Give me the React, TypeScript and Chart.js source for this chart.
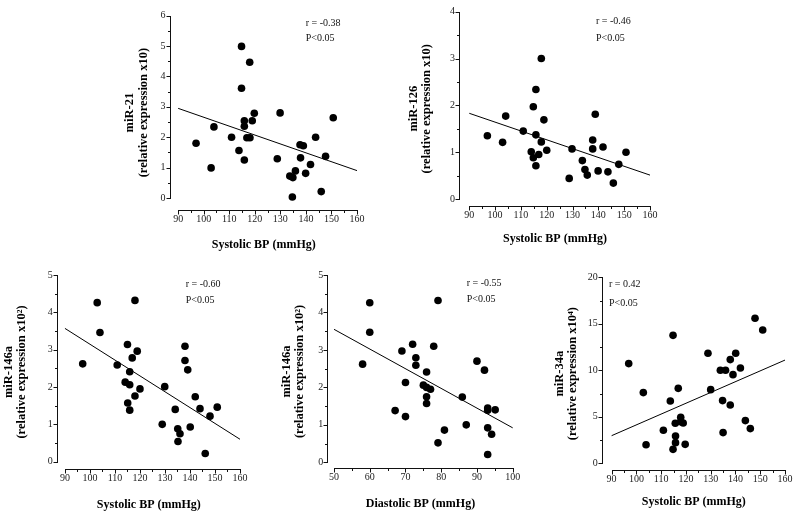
import React, { useEffect, useRef } from "react";
import { Chart, registerables } from "chart.js";

Chart.register(...registerables);

// ---- Panel A: miR-21 vs systolic BP ----
const sbpA = [97.0, 102.9, 104.0, 110.9, 113.8, 114.8, 114.8, 115.9, 115.9, 115.9, 118.0, 116.9, 118.1, 119.0, 119.8, 128.8, 129.9, 133.7, 134.9, 134.7, 135.9, 137.7, 139.0, 137.9, 139.9, 141.8, 143.8, 146.0, 147.7, 150.7];
const mir21 = [1.80, 0.99, 2.34, 2.00, 1.56, 4.99, 3.61, 2.54, 2.36, 1.25, 4.47, 1.98, 1.98, 2.54, 2.79, 1.29, 2.80, 0.72, 0.67, 0.03, 0.89, 1.75, 1.72, 1.32, 0.81, 1.10, 2.00, 0.21, 1.37, 2.64];
const fitAX = [90, 160];
const fitAY = [2.95, 0.90];

// ---- Panel B: miR-126 vs systolic BP ----
const sbpB = [97.0, 102.9, 104.1, 110.9, 114.0, 114.8, 114.8, 115.8, 115.8, 115.8, 116.9, 117.9, 117.9, 118.9, 120.0, 128.7, 129.8, 133.8, 134.8, 135.7, 137.8, 137.8, 138.8, 139.9, 141.8, 143.7, 145.8, 147.9, 150.7];
const mir126 = [1.35, 1.21, 1.77, 1.45, 1.01, 1.97, 0.88, 2.34, 1.37, 0.71, 0.95, 3.00, 1.22, 1.69, 1.04, 0.44, 1.07, 0.82, 0.63, 0.51, 1.26, 1.07, 1.81, 0.60, 1.11, 0.58, 0.34, 0.74, 1.00];
const fitBX = [90, 160];
const fitBY = [1.83, 0.51];

// ---- Panel C: miR-146a vs systolic BP ----
const sbpC = [97.1, 102.9, 104.0, 110.9, 114.1, 115.0, 115.1, 115.9, 115.9, 115.9, 116.9, 118.0, 118.0, 118.9, 120.0, 128.9, 129.9, 134.1, 135.1, 135.2, 136.0, 138.0, 138.0, 139.1, 140.1, 142.1, 144.0, 146.1, 148.0, 150.9];
const mir146s = [2.62, 4.26, 3.46, 2.59, 2.13, 3.14, 1.57, 2.41, 2.06, 1.38, 2.78, 4.32, 1.76, 2.96, 1.95, 1.00, 2.01, 1.40, 0.88, 0.54, 0.75, 3.09, 2.71, 2.46, 0.93, 1.74, 1.42, 0.22, 1.22, 1.46];
const fitCX = [90, 160];
const fitCY = [3.57, 0.60];

// ---- Panel D: miR-146a vs diastolic BP ----
const dbpD = [58.0, 60.0, 60.0, 67.1, 69.0, 70.0, 70.0, 72.0, 72.9, 72.9, 75.0, 75.9, 75.9, 75.9, 75.9, 77.0, 77.9, 79.1, 79.1, 80.9, 85.9, 87.0, 90.0, 92.1, 93.0, 93.0, 93.0, 93.0, 94.1, 95.1];
const mir146d = [2.62, 4.26, 3.47, 1.38, 2.97, 2.13, 1.22, 3.15, 2.79, 2.59, 2.06, 2.41, 2.00, 1.75, 1.57, 1.95, 3.10, 4.32, 0.52, 0.86, 1.74, 1.00, 2.70, 2.46, 1.45, 1.39, 0.92, 0.21, 0.75, 1.40];
const fitDX = [50, 100];
const fitDY = [3.55, 0.92];

// ---- Panel E: miR-34a vs systolic BP ----
const sbpE = [96.9, 102.8, 103.9, 110.9, 113.7, 114.8, 114.8, 115.8, 115.7, 115.8, 116.9, 117.9, 117.9, 118.9, 119.7, 128.9, 130.0, 133.9, 134.8, 135.0, 136.0, 137.9, 137.9, 139.0, 140.1, 142.0, 144.0, 146.0, 147.9, 151.0];
const mir34a = [10.72, 7.60, 2.00, 3.55, 6.70, 13.76, 1.50, 2.94, 4.30, 2.22, 8.06, 4.95, 4.48, 4.34, 2.04, 11.83, 7.92, 10.00, 6.74, 3.30, 10.00, 11.15, 6.27, 9.53, 11.83, 10.25, 4.59, 3.73, 15.59, 14.34];
const fitEX = [90, 160];
const fitEY = [2.97, 11.1];

// ---- Tick labels / texts ----
const sbpTicks = [90, 100, 110, 120, 130, 140, 150, 160];
const dbpTicks = [50, 60, 70, 80, 90, 100];
const ticks0to6 = [0, 1, 2, 3, 4, 5, 6];
const ticks0to4 = [0, 1, 2, 3, 4];
const ticks0to5 = [0, 1, 2, 3, 4, 5];
const ticks0to20 = [0, 5, 10, 15, 20];
const statsA = ["r = -0.38", "P<0.05"];
const statsB = ["r = -0.46", "P<0.05"];
const statsC = ["r = -0.60", "P<0.05"];
const statsD = ["r = -0.55", "P<0.05"];
const statsE = ["r = 0.42", "P<0.05"];

const SERIF = '"Liberation Serif", "Times New Roman", serif';

type Box = { left: number; top: number; width: number; height: number };
type Area = { left: number; top: number; right: number; bottom: number };
type PanelCfg = {
  box: Box;
  area: Area;
  xs: number[];
  ys: number[];
  fitX: number[];
  fitY: number[];
  xMin: number;
  xMax: number;
  xTicks: number[];
  xMinor: number;
  yMin: number;
  yMax: number;
  yTicks: number[];
  yMinor: number;
  xTitle: string;
  yTitle: string[];
  yTitleX: number;
  xTitleY: number;
  notes: string[];
  noteX: number;
  noteY: number[];
};

const panels: PanelCfg[] = [
  {
    box: { left: 90, top: 0, width: 310, height: 259 },
    area: { left: 170.5, top: 15.7, right: 357, bottom: 209.5 },
    xs: sbpA, ys: mir21, fitX: fitAX, fitY: fitAY,
    xMin: 87.0, xMax: 160, xTicks: sbpTicks, xMinor: 5,
    yMin: -0.38, yMax: 6, yTicks: ticks0to6, yMinor: 0.5,
    xTitle: "Systolic BP (mmHg)",
    yTitle: ["miR-21", "(relative expression x10)"],
    yTitleX: 130, xTitleY: 245,
    notes: statsA, noteX: 305.7, noteY: [23.3, 38.3],
  },
  {
    box: { left: 400, top: 0, width: 400, height: 259 },
    area: { left: 460, top: 11.7, right: 650, bottom: 205.7 },
    xs: sbpB, ys: mir126, fitX: fitBX, fitY: fitBY,
    xMin: 86.4, xMax: 160, xTicks: sbpTicks, xMinor: 5,
    yMin: -0.143, yMax: 4, yTicks: ticks0to4, yMinor: 0.5,
    xTitle: "Systolic BP (mmHg)",
    yTitle: ["miR-126", "(relative expression x10)"],
    yTitleX: 413.3, xTitleY: 239.3,
    notes: statsB, noteX: 596, noteY: [21.7, 38.3],
  },
  {
    box: { left: 0, top: 259, width: 270, height: 259 },
    area: { left: 57.7, top: 275, right: 240, bottom: 469 },
    xs: sbpC, ys: mir146s, fitX: fitCX, fitY: fitCY,
    xMin: 87.1, xMax: 160, xTicks: sbpTicks, xMinor: 5,
    yMin: -0.196, yMax: 5, yTicks: ticks0to5, yMinor: 0.5,
    xTitle: "Systolic BP (mmHg)",
    yTitle: ["miR-146a", "(relative expression x10\u00B2)"],
    yTitleX: 8.5, xTitleY: 505,
    notes: statsC, noteX: 185.7, noteY: [284, 300],
  },
  {
    box: { left: 270, top: 259, width: 265, height: 259 },
    area: { left: 328.3, top: 275, right: 512.7, bottom: 468 },
    xs: dbpD, ys: mir146d, fitX: fitDX, fitY: fitDY,
    xMin: 48.4, xMax: 100, xTicks: dbpTicks, xMinor: 5,
    yMin: -0.152, yMax: 5, yTicks: ticks0to5, yMinor: 0.5,
    xTitle: "Diastolic BP (mmHg)",
    yTitle: ["miR-146a", "(relative expression x10\u00B2)"],
    yTitleX: 286.7, xTitleY: 504.3,
    notes: statsD, noteX: 466.7, noteY: [283.3, 299.3],
  },
  {
    box: { left: 535, top: 259, width: 265, height: 259 },
    area: { left: 602.7, top: 277.3, right: 785, bottom: 470 },
    xs: sbpE, ys: mir34a, fitX: fitEX, fitY: fitEY,
    xMin: 86.4, xMax: 160, xTicks: sbpTicks, xMinor: 5,
    yMin: -0.72, yMax: 20, yTicks: ticks0to20, yMinor: 2.5,
    xTitle: "Systolic BP (mmHg)",
    yTitle: ["miR-34a", "(relative expression x10\u2074)"],
    yTitleX: 559.3, xTitleY: 501.7,
    notes: statsE, noteX: 609, noteY: [284.3, 303.3],
  },
];

const Y_TITLE_SIZE = 12.5;
const Y_TITLE_LH = 1.08;
const X_TITLE_SIZE = 12;
const X_TITLE_LH = 1.1;
const MAJOR_LEN = 3.5;
const MINOR_LEN = 2;

function Panel({ cfg }: { cfg: PanelCfg }) {
  const ref = useRef<HTMLCanvasElement | null>(null);
  useEffect(() => {
    const canvas = ref.current;
    if (!canvas) return;
    const { box, area } = cfg;
    const yLh = Y_TITLE_SIZE * Y_TITLE_LH;
    const xLh = X_TITLE_SIZE * X_TITLE_LH;

    const decor = {
      id: "decor",
      afterDraw(chart: any) {
        const ctx = chart.ctx as CanvasRenderingContext2D;
        const xs = chart.scales.x;
        const ys = chart.scales.y;
        const a = chart.chartArea;
        ctx.save();
        ctx.fillStyle = "#111";
        const ax = Math.round(a.left) - 1; // vertical axis column
        const ay = Math.round(a.bottom); // horizontal axis row
        const xt = cfg.xTicks;
        const yt = cfg.yTicks;
        const xp = (v: number) => Math.round(xs.getPixelForValue(v));
        const yp = (v: number) => Math.round(ys.getPixelForValue(v));
        // axis lines spanning the tick range (detached axes)
        const x0 = xp(xt[0]);
        const x1 = xp(xt[xt.length - 1]);
        ctx.fillRect(x0, ay, x1 - x0 + 1, 1);
        const yTop = yp(yt[yt.length - 1]);
        const yBot = yp(yt[0]);
        ctx.fillRect(ax, yTop, 1, yBot - yTop + 1);
        // major ticks
        xt.forEach((v) => ctx.fillRect(xp(v), ay + 1, 1, MAJOR_LEN));
        yt.forEach((v) => ctx.fillRect(ax - MAJOR_LEN, yp(v), MAJOR_LEN, 1));
        // minor ticks
        for (let i = 0; i < xt.length - 1; i++) {
          for (let v = xt[i] + cfg.xMinor; v < xt[i + 1] - 1e-6; v += cfg.xMinor) {
            ctx.fillRect(xp(v), ay + 1, 1, MINOR_LEN);
          }
        }
        for (let i = 0; i < yt.length - 1; i++) {
          for (let v = yt[i] + cfg.yMinor; v < yt[i + 1] - 1e-6; v += cfg.yMinor) {
            ctx.fillRect(ax - MINOR_LEN, yp(v), MINOR_LEN, 1);
          }
        }
        // statistics text
        ctx.fillStyle = "#111";
        ctx.font = `10px ${SERIF}`;
        ctx.textAlign = "left";
        ctx.textBaseline = "middle";
        cfg.notes.forEach((t, i) => {
          ctx.fillText(t, cfg.noteX - box.left, cfg.noteY[i] - box.top);
        });
        ctx.restore();
      },
    };

    const chart = new Chart(canvas, {
      type: "scatter",
      data: {
        datasets: [
          {
            data: cfg.xs.map((x, i) => ({ x, y: cfg.ys[i] })),
            backgroundColor: "#000",
            borderColor: "#000",
            pointRadius: 3.8,
            pointHoverRadius: 3.8,
            borderWidth: 0,
            clip: false,
          } as any,
          {
            data: cfg.fitX.map((x, i) => ({ x, y: cfg.fitY[i] })),
            showLine: true,
            borderColor: "#000",
            borderWidth: 1,
            pointRadius: 0,
            fill: false,
            clip: false,
          } as any,
        ],
      },
      options: {
        animation: false,
        responsive: false,
        devicePixelRatio: 1,
        events: [],
        layout: {
          padding: {
            left: 0,
            top: area.top - box.top,
            right: box.left + box.width - area.right,
            bottom: 0,
          },
        },
        plugins: {
          legend: { display: false },
          tooltip: { enabled: false },
          title: { display: false },
        },
        scales: {
          x: {
            type: "linear",
            min: cfg.xMin,
            max: cfg.xMax,
            border: { display: false },
            grid: {
              display: true,
              drawOnChartArea: false,
              drawTicks: true,
              tickLength: MAJOR_LEN,
              color: "rgba(0,0,0,0)",
              lineWidth: 1,
            },
            ticks: {
              padding: 1,
              color: "#222",
              font: { family: SERIF, size: 10, lineHeight: 1 },
              maxRotation: 0,
              autoSkip: false,
              callback: (v: any) => String(v),
            },
            afterBuildTicks: (s: any) => {
              s.ticks = cfg.xTicks.map((v) => ({ value: v }));
            },
            afterFit: (s: any) => {
              s.height = box.top + box.height - area.bottom;
            },
            title: {
              display: true,
              text: cfg.xTitle,
              color: "#000",
              font: { family: SERIF, size: X_TITLE_SIZE, weight: "bold", lineHeight: X_TITLE_LH },
              padding: { top: 0, bottom: box.top + box.height - cfg.xTitleY - xLh / 2 },
            },
          },
          y: {
            type: "linear",
            min: cfg.yMin,
            max: cfg.yMax,
            border: { display: false },
            grid: {
              display: true,
              drawOnChartArea: false,
              drawTicks: true,
              tickLength: MAJOR_LEN,
              color: "rgba(0,0,0,0)",
              lineWidth: 1,
            },
            ticks: {
              padding: 1.5,
              color: "#222",
              font: { family: SERIF, size: 10, lineHeight: 1 },
              autoSkip: false,
              callback: (v: any) => String(v),
            },
            afterBuildTicks: (s: any) => {
              s.ticks = cfg.yTicks.map((v) => ({ value: v }));
            },
            afterFit: (s: any) => {
              s.width = area.left - box.left;
            },
            title: {
              display: true,
              text: cfg.yTitle,
              color: "#000",
              font: { family: SERIF, size: Y_TITLE_SIZE, weight: "bold", lineHeight: Y_TITLE_LH },
              padding: { top: cfg.yTitleX - box.left - yLh / 2, bottom: 0 },
            },
          },
        },
      } as any,
      plugins: [decor],
    });
    return () => chart.destroy();
  }, [cfg]);

  return (
    <canvas
      ref={ref}
      width={cfg.box.width}
      height={cfg.box.height}
      style={{
        position: "absolute",
        left: cfg.box.left,
        top: cfg.box.top,
        width: cfg.box.width,
        height: cfg.box.height,
        display: "block",
      }}
    />
  );
}

export default function App() {
  return (
    <div
      style={{
        position: "absolute",
        left: 0,
        top: 0,
        width: 800,
        height: 518,
        background: "#fff",
        overflow: "hidden",
      }}
    >
      {panels.map((p, i) => (
        <Panel key={i} cfg={p} />
      ))}
    </div>
  );
}
